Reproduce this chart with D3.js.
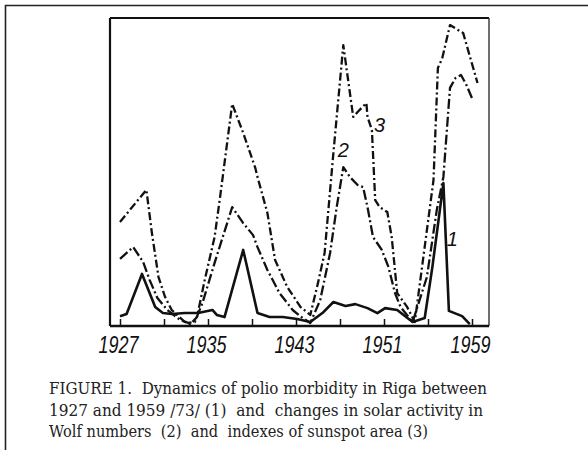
<!DOCTYPE html>
<html>
<head>
<meta charset="utf-8">
<script src="https://cdn.jsdelivr.net/npm/d3@7"></script>
<style>
  html, body { margin: 0; padding: 0; background: #fff; }
  svg { display: block; }
</style>
</head>
<body>
<div id="chart"></div>
<script>
// values (relative units, 0 = baseline, 100 = top of frame)
const polioYears = [1927, 1927.6, 1929.0, 1930.2, 1930.9, 1931.7, 1932.9, 1934.1, 1935.4, 1935.8, 1936.5,
  1938.2, 1939.5, 1940.6, 1941.8, 1943.1, 1944.3, 1945.4, 1946.4, 1947.5, 1948.4, 1949.5, 1950.4,
  1951.1, 1952.2, 1953.6, 1954.7, 1955.4, 1956.4, 1956.9, 1958.1, 1958.8];
const polioValues = [3.2, 3.9, 16.9, 6.2, 4.2, 3.9, 4.2, 4.2, 5.2, 3.6, 2.9,
  24.7, 4.2, 2.9, 2.9, 2.3, 1.3, 4.2, 7.8, 6.5, 7.1, 5.8, 4.2,
  5.8, 5.2, 1.3, 2.6, 19.2, 46.4, 4.9, 3.2, 0.6];

const wolfYears = [1927, 1928.2, 1929.1, 1929.7, 1930.4, 1931.3, 1932.5, 1933.2, 1933.8, 1934.5, 1935.6,
  1937.2, 1938.2, 1939.1, 1939.5, 1940.4, 1941.5, 1942.7, 1943.6, 1944.3, 1945.2, 1946.1, 1946.7,
  1947.3, 1947.9, 1948.6, 1949.1, 1949.5, 1950.0, 1950.8, 1951.4, 1952.0, 1952.5, 1953.6, 1954.9,
  1955.8, 1956.4, 1957.0, 1957.5, 1958.0, 1958.5, 1959.0];
const wolfValues = [21.8, 25.6, 20.8, 14.9, 9.1, 5.2, 1.9, 1.0, 1.3, 7.5, 20.5,
  38.6, 33.4, 29.5, 25.6, 18.2, 10.7, 5.2, 2.6, 1.0, 8.4, 23.7, 38.6,
  51.6, 48.4, 45.8, 45.1, 38.6, 28.9, 24.7, 19.2, 10.7, 6.2, 1.3, 15.9,
  37.7, 48.4, 77.3, 80.5, 81.5, 78.2, 74.0];

const areaYears = [1927, 1929.4, 1929.9, 1930.5, 1931.1, 1931.7, 1932.9, 1933.4, 1934.0, 1934.7, 1935.6,
  1936.1, 1937.2, 1938.2, 1939.3, 1939.5, 1940.4, 1941.1, 1942.2, 1943.4, 1944.3, 1945.0, 1945.6,
  1946.4, 1947.3, 1948.2, 1948.6, 1949.4, 1949.5, 1949.9, 1950.2, 1950.6, 1951.3, 1951.7, 1952.2,
  1953.1, 1953.8, 1955.5, 1955.9, 1956.3, 1957.0, 1958.2, 1959.5];
const areaValues = [33.8, 44.2, 30.2, 15.9, 9.4, 5.2, 1.3, 0.6, 2.9, 14.9, 28.9,
  41.9, 72.1, 62.7, 51.3, 48.4, 36.7, 21.4, 12.7, 6.2, 3.6, 14.0, 23.7,
  56.2, 91.2, 67.9, 69.5, 72.4, 67.9, 63.6, 40.9, 38.6, 37.0, 28.9, 10.7,
  6.2, 1.3, 47.4, 83.8, 87.0, 97.7, 95.1, 78.9];

const tickYears = [1927, 1931, 1935, 1939, 1943, 1947, 1951, 1955, 1959];
const labelYears = [1927, 1935, 1943, 1951, 1959];

const captionLines = [
  'FIGURE 1.  Dynamics of polio morbidity in Riga between',
  '1927 and 1959 /73/ (1)  and  changes in solar activity in',
  'Wolf numbers  (2)  and  indexes of sunspot area (3)'
];

const W = 588, H = 450;
const frame = { left: 110, top: 18, right: 489, bottom: 326 };

const svg = d3.select('#chart').append('svg')
  .attr('width', W)
  .attr('height', H);

// page border (scan edge)
svg.append('line')
  .attr('x1', 5).attr('y1', 5.5).attr('x2', W).attr('y2', 5.5)
  .attr('stroke', '#222').attr('stroke-width', 1.6);
svg.append('line')
  .attr('x1', 5.5).attr('y1', 5).attr('x2', 5.5).attr('y2', H)
  .attr('stroke', '#222').attr('stroke-width', 1.6);

const x = d3.scaleLinear()
  .domain([1927, 1959])
  .range([120, 472]);

const y = d3.scaleLinear()
  .domain([0, 100])
  .range([frame.bottom, frame.top]);

// plot frame
svg.append('line')
  .attr('x1', frame.left).attr('y1', frame.top).attr('x2', frame.right).attr('y2', frame.top)
  .attr('stroke', '#111').attr('stroke-width', 2.2);
svg.append('line')
  .attr('x1', frame.left).attr('y1', frame.top).attr('x2', frame.left).attr('y2', frame.bottom)
  .attr('stroke', '#111').attr('stroke-width', 2.2);
svg.append('line')
  .attr('x1', frame.right).attr('y1', frame.top).attr('x2', frame.right).attr('y2', frame.bottom)
  .attr('stroke', '#333').attr('stroke-width', 1.4);
svg.append('line')
  .attr('x1', frame.left).attr('y1', frame.bottom).attr('x2', frame.right).attr('y2', frame.bottom)
  .attr('stroke', '#111').attr('stroke-width', 2.4);

// ticks point upward into the plot
const axis = svg.append('g')
  .attr('transform', `translate(0,${frame.bottom})`)
  .call(d3.axisBottom(x)
    .tickValues(tickYears)
    .tickSize(-7)
    .tickFormat(d => labelYears.includes(d) ? d : ''));
axis.select('.domain').remove();
axis.selectAll('.tick line')
  .attr('stroke', '#111')
  .attr('stroke-width', 1.5);
axis.selectAll('.tick text')
  .attr('y', 0)
  .attr('dy', 0)
  .attr('transform', 'translate(-2,27)')
  .attr('fill', '#111')
  .style('font-family', '"Liberation Sans", Arial, sans-serif')
  .style('font-style', 'italic')
  .style('font-size', '23px')
  .attr('textLength', d => labelYears.includes(d) ? 40 : null)
  .attr('lengthAdjust', 'spacingAndGlyphs');

const line = d3.line()
  .x(d => x(d[0]))
  .y(d => y(d[1]));

const series = [
  { years: areaYears, values: areaValues, dash: '8,3,2,3', width: 2.3 },
  { years: wolfYears, values: wolfValues, dash: '10,3,2,3', width: 2.3 },
  { years: polioYears, values: polioValues, dash: null, width: 2.6 }
];

series.forEach(s => {
  svg.append('path')
    .datum(d3.zip(s.years, s.values))
    .attr('d', line)
    .attr('fill', 'none')
    .attr('stroke', '#111')
    .attr('stroke-width', s.width)
    .attr('stroke-linejoin', 'round')
    .attr('stroke-dasharray', s.dash);
});

// curve numbers
const curveLabels = [
  { text: '3', year: 1950.6, value: 63 },
  { text: '2', year: 1947.3, value: 55 },
  { text: '1', year: 1957.2, value: 26 }
];
svg.selectAll('.curve-label')
  .data(curveLabels)
  .enter().append('text')
  .attr('class', 'curve-label')
  .attr('x', d => x(d.year))
  .attr('y', d => y(d.value))
  .attr('text-anchor', 'middle')
  .attr('fill', '#111')
  .style('font-family', '"Liberation Sans", Arial, sans-serif')
  .style('font-style', 'italic')
  .style('font-size', '20px')
  .text(d => d.text);

// caption
const caption = svg.append('g')
  .attr('fill', '#222')
  .style('font-family', '"DejaVu Serif", "Liberation Serif", serif')
  .style('font-size', '16px');
const captionWidths = [438, 434, 379];
caption.selectAll('text')
  .data(captionLines)
  .enter().append('text')
  .attr('x', 49)
  .attr('y', (d, i) => 394 + i * 21.5)
  .attr('textLength', (d, i) => captionWidths[i])
  .attr('lengthAdjust', 'spacingAndGlyphs')
  .style('white-space', 'pre')
  .text(d => d);
</script>
</body>
</html>
